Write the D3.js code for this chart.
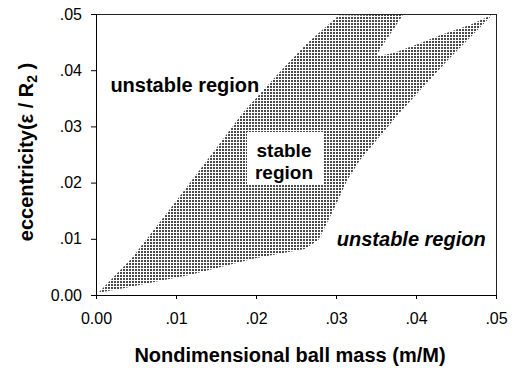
<!DOCTYPE html>
<html>
<head>
<meta charset="utf-8">
<script src="https://cdn.jsdelivr.net/npm/d3@7"></script>
<style>
  body { margin: 0; background: #fff; }
  svg { display: block; }
  text { font-family: Arial, 'Liberation Sans', sans-serif; fill: #000; }
</style>
</head>
<body>
<div id="chart"></div>
<script>
// stable region boundary (mass m/M, eccentricity e/R2)
const boundaryMass = [0.0003, 0.0045, 0.0099, 0.0155, 0.0184, 0.0226, 0.0264, 0.0303,
  0.0384, 0.0370, 0.0358, 0.0350, 0.0371, 0.0405, 0.0430, 0.0468, 0.0496,
  0.0439, 0.0380, 0.0330, 0.0314, 0.0295, 0.0278, 0.0261, 0.0201, 0.0118, 0.0034];
const boundaryEcc = [0.0004, 0.0066, 0.0165, 0.0270, 0.0325, 0.0391, 0.0448, 0.0497,
  0.0499, 0.0469, 0.0444, 0.0425, 0.0430, 0.0448, 0.0462, 0.0481, 0.0499,
  0.0417, 0.0325, 0.0240, 0.0204, 0.0146, 0.0098, 0.0082, 0.0066, 0.0036, 0.0012];

const massTicks = [0, 0.01, 0.02, 0.03, 0.04, 0.05];
const massLabels = ['0.00', '.01', '.02', '.03', '.04', '.05'];
const eccTicks = [0, 0.01, 0.02, 0.03, 0.04, 0.05];
const eccLabels = ['0.00', '.01', '.02', '.03', '.04', '.05'];

const xTitle = 'Nondimensional ball mass (m/M)';
const regionLabels = ['unstable region', 'stable', 'region', 'unstable region'];

const width = 519;
const height = 368;
const margin = { top: 14, right: 23, bottom: 73, left: 96 };
const w = width - margin.left - margin.right;
const h = height - margin.top - margin.bottom;

const svg = d3.select('#chart')
  .append('svg')
  .attr('width', width)
  .attr('height', height);

// stipple fill like the scanned dot screen
const defs = svg.append('defs');
const pat = defs.append('pattern')
  .attr('id', 'stipple')
  .attr('patternUnits', 'userSpaceOnUse')
  .attr('width', 3)
  .attr('height', 3);
pat.append('rect')
  .attr('x', 0).attr('y', 0)
  .attr('width', 2).attr('height', 2)
  .attr('fill', '#4a4a4a');

const g = svg.append('g')
  .attr('transform', 'translate(' + margin.left + ',' + margin.top + ')');

const x = d3.scaleLinear().domain([0, 0.05]).range([0, w]);
const y = d3.scaleLinear().domain([0, 0.05]).range([h, 0]);

// stable region
const pts = boundaryMass.map((m, i) => [m, boundaryEcc[i]]);
const area = d3.line()
  .x(d => x(d[0]))
  .y(d => y(d[1]));
g.append('path')
  .attr('d', area(pts) + 'Z')
  .attr('fill', 'url(#stipple)')
  .attr('stroke', 'none');

// frame (top and right)
g.append('line')
  .attr('x1', 0).attr('x2', w)
  .attr('y1', 0.5).attr('y2', 0.5)
  .attr('stroke', '#222');
g.append('line')
  .attr('x1', w + 0.5).attr('x2', w + 0.5)
  .attr('y1', 0).attr('y2', h)
  .attr('stroke', '#222');

// axes
const xAxis = d3.axisBottom(x)
  .tickValues(massTicks)
  .tickFormat((d, i) => massLabels[i])
  .tickSizeInner(4)
  .tickSizeOuter(0)
  .tickPadding(14);
const yAxis = d3.axisLeft(y)
  .tickValues(eccTicks)
  .tickFormat((d, i) => eccLabels[i])
  .tickSizeInner(5)
  .tickSizeOuter(0)
  .tickPadding(9);

const gx = g.append('g')
  .attr('transform', 'translate(0,' + h + ')')
  .call(xAxis);
const gy = g.append('g').call(yAxis);

[gx, gy].forEach(a => {
  a.select('.domain').attr('stroke', '#000');
  a.selectAll('.tick line').attr('stroke', '#000');
  a.selectAll('.tick text')
    .style('font-size', '16px')
    .style('font-family', "Arial, 'Liberation Sans', sans-serif")
    .attr('fill', '#000');
});

// axis titles
svg.append('text')
  .attr('x', margin.left + w / 2 - 6)
  .attr('y', 362)
  .attr('text-anchor', 'middle')
  .style('font-size', '20px')
  .style('font-weight', 'bold')
  .text(xTitle);

const yt = svg.append('text')
  .attr('transform', 'translate(33,152) rotate(-90)')
  .attr('text-anchor', 'middle')
  .style('font-size', '20px')
  .style('font-weight', 'bold');
yt.append('tspan').text('eccentricity(\u03b5 / R');
yt.append('tspan')
  .attr('dy', 4)
  .style('font-size', '14px')
  .text('2');
yt.append('tspan')
  .attr('dy', -4)
  .text(' )');

// region labels
g.append('text')
  .attr('x', x(0.0018))
  .attr('y', y(0.0361))
  .style('font-size', '20px')
  .style('font-weight', 'bold')
  .text(regionLabels[0]);

const sx = x(0.0235);
g.append('rect')
  .attr('x', sx - 37)
  .attr('y', y(0.0290))
  .attr('width', 76)
  .attr('height', 53)
  .attr('fill', '#fff');
g.append('text')
  .attr('x', sx)
  .attr('y', y(0.0246))
  .attr('text-anchor', 'middle')
  .style('font-size', '19px')
  .style('font-weight', 'bold')
  .text(regionLabels[1]);
g.append('text')
  .attr('x', sx)
  .attr('y', y(0.0207))
  .attr('text-anchor', 'middle')
  .style('font-size', '19px')
  .style('font-weight', 'bold')
  .text(regionLabels[2]);

g.append('text')
  .attr('x', x(0.0301))
  .attr('y', y(0.0088))
  .style('font-size', '20px')
  .style('font-weight', 'bold')
  .style('font-style', 'italic')
  .text(regionLabels[3]);
</script>
</body>
</html>
